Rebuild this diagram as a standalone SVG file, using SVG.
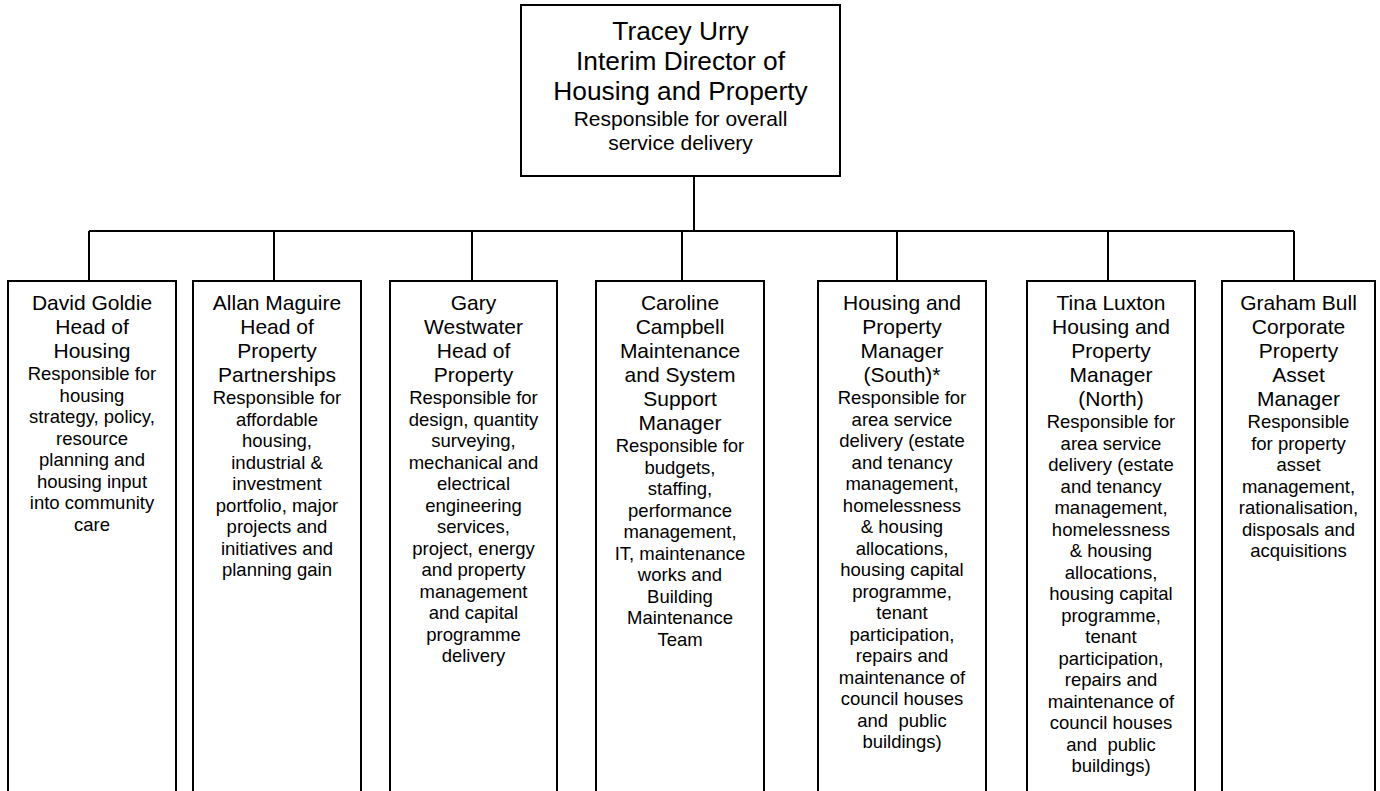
<svg xmlns="http://www.w3.org/2000/svg" width="1380" height="791" viewBox="0 0 1380 791">
<style>
.box{fill:#fff;stroke:#000;stroke-width:2}
.con{stroke:#000;stroke-width:2;fill:none}
text{font-family:"Liberation Sans",Arial,sans-serif;fill:#000;text-anchor:middle}
.tn{font-size:26.3px}
.td{font-size:21px}
.n{font-size:21px}
.d{font-size:18.5px}
</style>
<rect width="1380" height="791" fill="#fff"/>
<g id="connectors">
<path class="con" d="M694,176V231M89,231H1294M89,231V281M274,231V281M472,231V281M682,231V281M897,231V281M1108,231V281M1294,231V281"/>
</g>
<g id="director">
<rect class="box" x="521" y="5" width="319" height="171"/>
<text class="tn" x="680.5" y="39.5">Tracey Urry</text>
<text class="tn" x="680.5" y="69.5">Interim Director of</text>
<text class="tn" x="680.5" y="99.5">Housing and Property</text>
<text class="td" x="680.5" y="126">Responsible for overall</text>
<text class="td" x="680.5" y="150">service delivery</text>
</g>
<g id="goldie">
<rect class="box" x="8" y="281" width="168" height="530"/>
<text class="n" x="92" y="310">David Goldie</text>
<text class="n" x="92" y="334">Head of</text>
<text class="n" x="92" y="358">Housing</text>
<text class="d" x="92" y="380">Responsible for</text>
<text class="d" x="92" y="401.5">housing</text>
<text class="d" x="92" y="423">strategy, policy,</text>
<text class="d" x="92" y="444.5">resource</text>
<text class="d" x="92" y="466">planning and</text>
<text class="d" x="92" y="487.5">housing input</text>
<text class="d" x="92" y="509">into community</text>
<text class="d" x="92" y="530.5">care</text>
</g>
<g id="maguire">
<rect class="box" x="193" y="281" width="168" height="530"/>
<text class="n" x="277" y="310">Allan Maguire</text>
<text class="n" x="277" y="334">Head of</text>
<text class="n" x="277" y="358">Property</text>
<text class="n" x="277" y="382">Partnerships</text>
<text class="d" x="277" y="404">Responsible for</text>
<text class="d" x="277" y="425.5">affordable</text>
<text class="d" x="277" y="447">housing,</text>
<text class="d" x="277" y="468.5">industrial &amp;</text>
<text class="d" x="277" y="490">investment</text>
<text class="d" x="277" y="511.5">portfolio, major</text>
<text class="d" x="277" y="533">projects and</text>
<text class="d" x="277" y="554.5">initiatives and</text>
<text class="d" x="277" y="576">planning gain</text>
</g>
<g id="westwater">
<rect class="box" x="390" y="281" width="167" height="530"/>
<text class="n" x="473.5" y="310">Gary</text>
<text class="n" x="473.5" y="334">Westwater</text>
<text class="n" x="473.5" y="358">Head of</text>
<text class="n" x="473.5" y="382">Property</text>
<text class="d" x="473.5" y="404">Responsible for</text>
<text class="d" x="473.5" y="425.5">design, quantity</text>
<text class="d" x="473.5" y="447">surveying,</text>
<text class="d" x="473.5" y="468.5">mechanical and</text>
<text class="d" x="473.5" y="490">electrical</text>
<text class="d" x="473.5" y="511.5">engineering</text>
<text class="d" x="473.5" y="533">services,</text>
<text class="d" x="473.5" y="554.5">project, energy</text>
<text class="d" x="473.5" y="576">and property</text>
<text class="d" x="473.5" y="597.5">management</text>
<text class="d" x="473.5" y="619">and capital</text>
<text class="d" x="473.5" y="640.5">programme</text>
<text class="d" x="473.5" y="662">delivery</text>
</g>
<g id="campbell">
<rect class="box" x="596" y="281" width="168" height="530"/>
<text class="n" x="680" y="310">Caroline</text>
<text class="n" x="680" y="334">Campbell</text>
<text class="n" x="680" y="358">Maintenance</text>
<text class="n" x="680" y="382">and System</text>
<text class="n" x="680" y="406">Support</text>
<text class="n" x="680" y="430">Manager</text>
<text class="d" x="680" y="452">Responsible for</text>
<text class="d" x="680" y="473.5">budgets,</text>
<text class="d" x="680" y="495">staffing,</text>
<text class="d" x="680" y="516.5">performance</text>
<text class="d" x="680" y="538">management,</text>
<text class="d" x="680" y="559.5">IT, maintenance</text>
<text class="d" x="680" y="581">works and</text>
<text class="d" x="680" y="602.5">Building</text>
<text class="d" x="680" y="624">Maintenance</text>
<text class="d" x="680" y="645.5">Team</text>
</g>
<g id="south">
<rect class="box" x="818" y="281" width="168" height="530"/>
<text class="n" x="902" y="310">Housing and</text>
<text class="n" x="902" y="334">Property</text>
<text class="n" x="902" y="358">Manager</text>
<text class="n" x="902" y="382">(South)*</text>
<text class="d" x="902" y="404">Responsible for</text>
<text class="d" x="902" y="425.5">area service</text>
<text class="d" x="902" y="447">delivery (estate</text>
<text class="d" x="902" y="468.5">and tenancy</text>
<text class="d" x="902" y="490">management,</text>
<text class="d" x="902" y="511.5">homelessness</text>
<text class="d" x="902" y="533">&amp; housing</text>
<text class="d" x="902" y="554.5">allocations,</text>
<text class="d" x="902" y="576">housing capital</text>
<text class="d" x="902" y="597.5">programme,</text>
<text class="d" x="902" y="619">tenant</text>
<text class="d" x="902" y="640.5">participation,</text>
<text class="d" x="902" y="662">repairs and</text>
<text class="d" x="902" y="683.5">maintenance of</text>
<text class="d" x="902" y="705">council houses</text>
<text class="d" x="902" y="726.5" xml:space="preserve" style="white-space:pre">and  public</text>
<text class="d" x="902" y="748">buildings)</text>
</g>
<g id="luxton">
<rect class="box" x="1027" y="281" width="168" height="530"/>
<text class="n" x="1111" y="310">Tina Luxton</text>
<text class="n" x="1111" y="334">Housing and</text>
<text class="n" x="1111" y="358">Property</text>
<text class="n" x="1111" y="382">Manager</text>
<text class="n" x="1111" y="406">(North)</text>
<text class="d" x="1111" y="428">Responsible for</text>
<text class="d" x="1111" y="449.5">area service</text>
<text class="d" x="1111" y="471">delivery (estate</text>
<text class="d" x="1111" y="492.5">and tenancy</text>
<text class="d" x="1111" y="514">management,</text>
<text class="d" x="1111" y="535.5">homelessness</text>
<text class="d" x="1111" y="557">&amp; housing</text>
<text class="d" x="1111" y="578.5">allocations,</text>
<text class="d" x="1111" y="600">housing capital</text>
<text class="d" x="1111" y="621.5">programme,</text>
<text class="d" x="1111" y="643">tenant</text>
<text class="d" x="1111" y="664.5">participation,</text>
<text class="d" x="1111" y="686">repairs and</text>
<text class="d" x="1111" y="707.5">maintenance of</text>
<text class="d" x="1111" y="729">council houses</text>
<text class="d" x="1111" y="750.5" xml:space="preserve" style="white-space:pre">and  public</text>
<text class="d" x="1111" y="772">buildings)</text>
</g>
<g id="bull">
<rect class="box" x="1222" y="281" width="153" height="530"/>
<text class="n" x="1298.5" y="310">Graham Bull</text>
<text class="n" x="1298.5" y="334">Corporate</text>
<text class="n" x="1298.5" y="358">Property</text>
<text class="n" x="1298.5" y="382">Asset</text>
<text class="n" x="1298.5" y="406">Manager</text>
<text class="d" x="1298.5" y="428">Responsible</text>
<text class="d" x="1298.5" y="449.5">for property</text>
<text class="d" x="1298.5" y="471">asset</text>
<text class="d" x="1298.5" y="492.5">management,</text>
<text class="d" x="1298.5" y="514">rationalisation,</text>
<text class="d" x="1298.5" y="535.5">disposals and</text>
<text class="d" x="1298.5" y="557">acquisitions</text>
</g>
</svg>
